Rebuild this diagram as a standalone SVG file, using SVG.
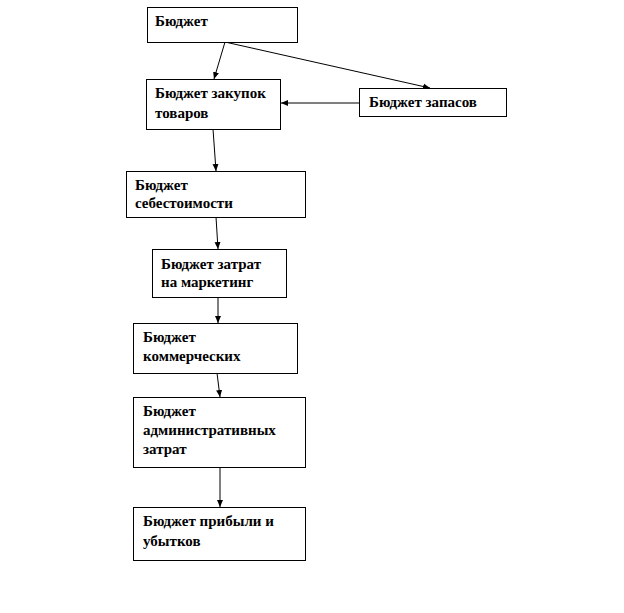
<svg xmlns="http://www.w3.org/2000/svg" width="624" height="613" viewBox="0 0 624 613">
<style>
.box{fill:#fff;stroke:#000;stroke-width:1}
.t{font-family:"Liberation Serif","Times New Roman",serif;font-weight:bold;font-size:15px;fill:#000}
.c{stroke:#000;stroke-width:1;fill:none;marker-end:url(#a)}
</style>
<defs>
<marker id="a" markerWidth="8" markerHeight="8" refX="7" refY="4" orient="auto" markerUnits="userSpaceOnUse">
<path d="M0,1 L7,4 L0,7 Z" fill="#000"/>
</marker>
</defs>
<rect width="624" height="613" fill="#fff"/>
<g id="connectors">
<line class="c" x1="225" y1="42" x2="214" y2="79"/>
<line class="c" x1="225" y1="42" x2="430" y2="88"/>
<line class="c" x1="359" y1="103" x2="281" y2="103"/>
<line class="c" x1="213" y1="129" x2="216" y2="171"/>
<line class="c" x1="216" y1="217" x2="218" y2="249"/>
<line class="c" x1="218" y1="297" x2="218" y2="323"/>
<line class="c" x1="217" y1="373" x2="220" y2="397"/>
<line class="c" x1="220" y1="467" x2="220" y2="507"/>
</g>
<g id="n1"><rect class="box" x="147.5" y="7.5" width="150" height="35"/><text class="t" x="155" y="26">Бюджет</text></g>
<g id="n2"><rect class="box" x="146.5" y="79.5" width="134" height="50"/><text class="t" x="155" y="98">Бюджет закупок</text><text class="t" x="155" y="118">товаров</text></g>
<g id="n3"><rect class="box" x="359.5" y="88.5" width="147" height="28"/><text class="t" x="369" y="107">Бюджет запасов</text></g>
<g id="n4"><rect class="box" x="126.5" y="171.5" width="179" height="46"/><text class="t" x="135" y="190">Бюджет</text><text class="t" x="135" y="208">себестоимости</text></g>
<g id="n5"><rect class="box" x="152.5" y="249.5" width="134" height="48"/><text class="t" x="161" y="269">Бюджет затрат</text><text class="t" x="161" y="287">на маркетинг</text></g>
<g id="n6"><rect class="box" x="133.5" y="323.5" width="164" height="50"/><text class="t" x="143" y="342">Бюджет</text><text class="t" x="143" y="361">коммерческих</text></g>
<g id="n7"><rect class="box" x="133.5" y="397.5" width="172" height="70"/><text class="t" x="143" y="416">Бюджет</text><text class="t" x="143" y="435">административных</text><text class="t" x="143" y="454">затрат</text></g>
<g id="n8"><rect class="box" x="133.5" y="507.5" width="172" height="53"/><text class="t" x="143" y="526">Бюджет прибыли и</text><text class="t" x="143" y="546">убытков</text></g>
</svg>
